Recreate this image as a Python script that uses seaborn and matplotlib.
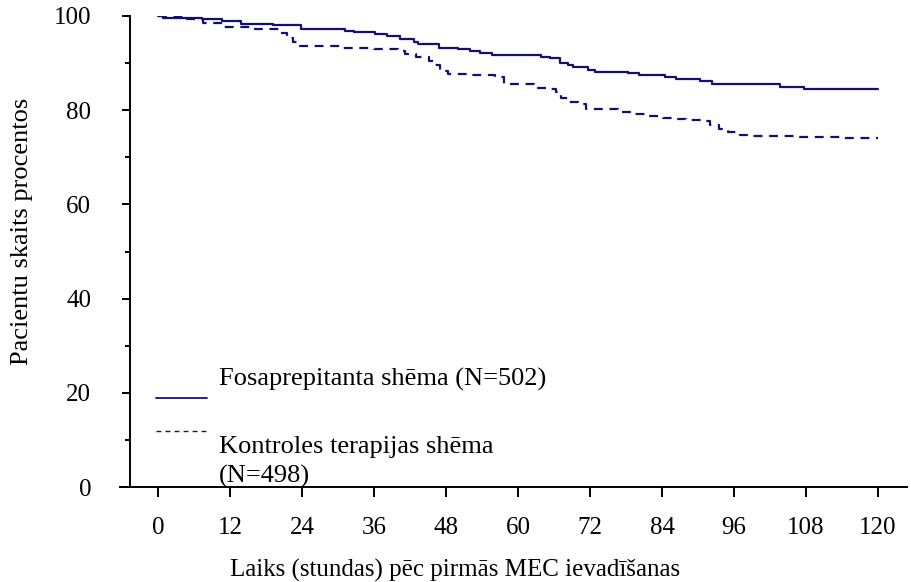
import pandas as pd
import matplotlib
matplotlib.use("Agg")
import matplotlib.pyplot as plt
import seaborn as sns
from matplotlib.lines import Line2D
from matplotlib.ticker import MultipleLocator

# Kaplan-Meier style step data (hours, percent)
fosa_hours = [0, 0.9, 7.3, 10.6, 13.9, 19.2, 23.9, 31.2, 32.6, 36.2, 38.1, 40.3,
              42.6, 43.4, 46.9, 50.0, 52.0, 53.7, 55.6, 63.9, 65.3, 67.0, 68.4,
              69.2, 71.7, 72.8, 78.4, 80.1, 84.5, 86.4, 90.3, 92.3, 103.7, 107.6, 120]
fosa_pct = [100, 99.6, 99.3, 98.9, 98.4, 98.1, 97.2, 96.8, 96.5, 96.1, 95.7, 95.2,
            94.4, 94.0, 93.3, 93.0, 92.5, 92.1, 91.8, 91.4, 91.0, 90.1, 89.6,
            89.1, 88.6, 88.2, 87.9, 87.4, 87.1, 86.6, 86.2, 85.5, 85.0, 84.6, 84.6]

ctrl_hours = [0, 4.5, 7.5, 11.0, 16.2, 20.3, 21.5, 22.5, 23.7, 30.9, 36.0, 40.0,
              41.2, 43.0, 45.1, 46.0, 47.0, 48.4, 52.0, 56.2, 57.6, 62.6, 65.0,
              66.4, 67.2, 68.5, 70.0, 71.4, 76.7, 79.0, 81.4, 84.2, 85.6, 88.0,
              90.9, 92.0, 93.5, 95.0, 97.0, 98.1, 106.0, 113.7, 120]
ctrl_pct = [100, 99.4, 98.6, 97.6, 97.2, 96.3, 95.4, 94.5, 93.7, 93.3, 93.0, 92.5,
            91.9, 91.3, 90.5, 89.5, 88.4, 87.7, 87.4, 87.0, 85.5, 84.8, 84.4,
            83.8, 82.5, 81.8, 81.3, 80.3, 79.7, 79.2, 78.8, 78.4, 78.2, 77.9,
            77.7, 76.9, 76.0, 75.4, 74.7, 74.5, 74.4, 74.0, 74.0]

x_ticks = list(range(0, 121, 12))
y_ticks = list(range(0, 101, 20))

label_fosa = "Fosaprepitanta shēma (N=502)"
label_ctrl_1 = "Kontroles terapijas shēma"
label_ctrl_2 = "(N=498)"
x_label = "Laiks (stundas) pēc pirmās MEC ievadīšanas"
y_label = "Pacientu skaits procentos"

navy = "#12126e"
fs = 19
fs_small = 18

sns.set_theme(style="ticks")
plt.rcParams["font.family"] = ["Liberation Serif", "DejaVu Serif"]
plt.rcParams["text.color"] = "black"

fig = plt.figure(figsize=(9.12, 5.82), dpi=100)
W, H = 912, 582
ax = fig.add_axes([120 / W, 1 - 487 / H, 787 / W, 471 / H])

fosa_df = pd.DataFrame({"hours": fosa_hours, "pct": fosa_pct})
ctrl_df = pd.DataFrame({"hours": ctrl_hours, "pct": ctrl_pct})

sns.lineplot(data=fosa_df, x="hours", y="pct", ax=ax, color=navy, lw=1.6,
             drawstyle="steps-post", legend=False)
sns.lineplot(data=ctrl_df, x="hours", y="pct", ax=ax, color=navy, lw=1.6,
             drawstyle="steps-post", linestyle=(0, (4, 3)), legend=False)

# axes limits so the spines sit where the reference has them
ax.set_xlim(-6.33, 124.83)
ax.set_ylim(0, 100)
ax.spines["left"].set_position(("data", -4.67))
ax.spines["right"].set_visible(False)
ax.spines["top"].set_visible(False)
for s in ("left", "bottom"):
    ax.spines[s].set_linewidth(1.4)
    ax.spines[s].set_color("black")

ax.set_xticks(x_ticks)
ax.set_yticks(y_ticks)
ax.yaxis.set_minor_locator(MultipleLocator(10))
ax.tick_params(axis="x", direction="out", length=7.5, width=1.4, pad=14,
               labelsize=fs_small, colors="black")
ax.tick_params(axis="y", which="major", direction="out", length=6, width=1.4,
               pad=22, labelsize=fs_small, colors="black")
ax.tick_params(axis="y", which="minor", direction="out", length=3.5, width=1.4,
               colors="black")

ax.set_xlabel(x_label, fontsize=fs_small, color="black")
ax.set_ylabel(y_label, fontsize=fs, color="black")
ax.xaxis.set_label_coords((455 - 120) / 787, -(570 - 487) / 471)
ax.yaxis.set_label_coords(-(120 - 22) / 787, (487 - 231) / 471)
ax.xaxis.label.set_va("center")
ax.yaxis.label.set_va("center")

# hand-placed legend as in the reference
fig.add_artist(Line2D([156 / W, 207 / W], [1 - 398 / H, 1 - 398 / H],
                      color=navy, lw=1.3))
fig.add_artist(Line2D([156 / W, 207 / W], [1 - 431 / H, 1 - 431 / H],
                      color=navy, lw=1.0, linestyle=(0, (3.5, 3))))
fig.text(219 / W, 1 - 386 / H, label_fosa, fontsize=fs, va="baseline", color="black")
fig.text(219 / W, 1 - 453 / H, label_ctrl_1, fontsize=fs, va="baseline", color="black")
fig.text(219 / W, 1 - 483 / H, label_ctrl_2, fontsize=fs, va="baseline", color="black")

fig.savefig("out.png", dpi=100, facecolor="white")
